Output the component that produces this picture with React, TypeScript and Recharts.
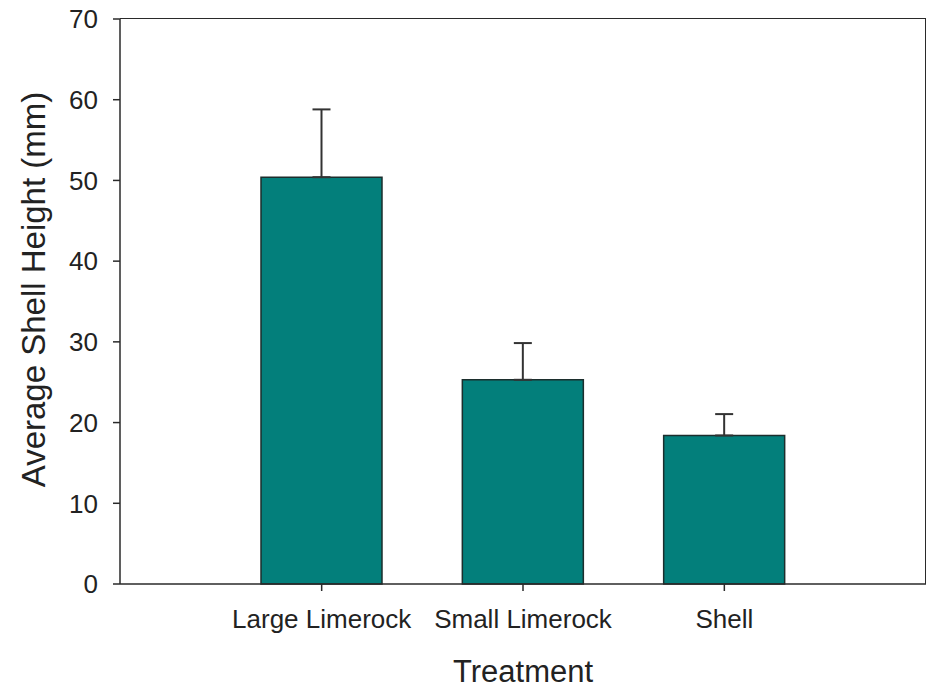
import { BarChart, Bar, XAxis, YAxis, ErrorBar } from 'recharts'

const treatments = ['Large Limerock', 'Small Limerock', 'Shell']
const meanHeight = [50.4, 25.3, 18.4]
const stdErr = [8.4, 4.55, 2.65]
const yTicks = [0, 10, 20, 30, 40, 50, 60, 70]

const data = treatments.map((name, i) => ({
  name,
  height: meanHeight[i],
  err: [0, stdErr[i]],
}))

const font = '"Liberation Sans", Arial, sans-serif'
const ink = '#2a2a2a'

const W = 936
const H = 689
const margin = { top: 19, right: 10, left: 0, bottom: 0 }
const yAxisW = 120
const xAxisH = 105

// rotated y title, nudged a little above the plot centre like the original
function YTitle({ viewBox }: any) {
  const x = 45
  const y = viewBox.y + viewBox.height / 2 - 12
  return (
    <text
      x={x}
      y={y}
      transform={`rotate(-90, ${x}, ${y})`}
      textAnchor="middle"
      fill="#222"
      fontSize={33}
      fontFamily={font}
    >
      Average Shell Height (mm)
    </text>
  )
}

export default function App() {
  return (
    <div style={{ position: 'absolute', left: 0, top: 0, width: W, height: H, background: '#fff' }}>
      <BarChart width={W} height={H} data={data} margin={margin} barCategoryGap={0}>
        <XAxis
          dataKey="name"
          height={xAxisH}
          padding={{ left: 101, right: 101 }}
          stroke={ink}
          strokeWidth={1.5}
          tickSize={7}
          tickMargin={19}
          tick={{ fill: '#222', fontSize: 26, fontFamily: font }}
          label={{
            value: 'Treatment',
            position: 'insideBottom',
            offset: 7,
            fill: '#222',
            fontSize: 31,
            fontFamily: font,
          }}
        />
        <YAxis
          domain={[0, 70]}
          ticks={yTicks}
          width={yAxisW}
          stroke={ink}
          strokeWidth={1.5}
          tickSize={7}
          tickMargin={15}
          tick={{ fill: '#222', fontSize: 26, fontFamily: font }}
          label={<YTitle />}
        />
        <Bar
          dataKey="height"
          fill="#037f7b"
          stroke="#1c2e2d"
          strokeWidth={1.5}
          barSize={121}
          isAnimationActive={false}
        >
          <ErrorBar dataKey="err" width={9} stroke="#333" strokeWidth={2} />
        </Bar>
      </BarChart>
      {/* top and right edges of the plot frame */}
      <div
        style={{
          position: 'absolute',
          left: margin.left + yAxisW,
          top: margin.top - 0.75,
          width: W - margin.left - margin.right - yAxisW - 0.75,
          height: H - margin.top - margin.bottom - xAxisH,
          borderTop: `1.5px solid ${ink}`,
          borderRight: `1.5px solid ${ink}`,
          pointerEvents: 'none',
        }}
      />
    </div>
  )
}
